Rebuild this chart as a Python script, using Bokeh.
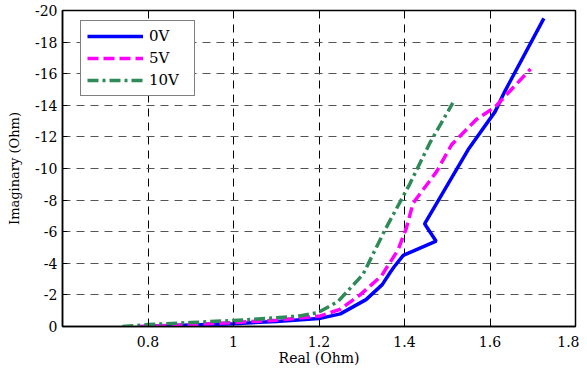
from bokeh.plotting import figure
from bokeh.models import Range1d, FixedTicker, Legend, LegendItem
from bokeh.embed import file_html
from bokeh.resources import INLINE

# 0V
x0 = [0.79, 0.9, 1.0, 1.1, 1.2, 1.25, 1.27, 1.31, 1.348, 1.366, 1.375, 1.397, 1.474, 1.447, 1.549, 1.612, 1.635, 1.726]
y0 = [0.0, -0.1, -0.18, -0.32, -0.5, -0.8, -1.1, -1.7, -2.65, -3.4, -3.75, -4.5, -5.4, -6.5, -11.2, -13.6, -14.9, -19.5]
# 5V
x5 = [0.78, 0.9, 1.0, 1.1, 1.203, 1.249, 1.296, 1.346, 1.385, 1.404, 1.42, 1.475, 1.51, 1.568, 1.612, 1.695]
y5 = [0.0, -0.12, -0.25, -0.4, -0.67, -1.08, -2.0, -3.2, -4.85, -6.2, -7.8, -9.8, -11.5, -13.1, -13.9, -16.3]
# 10V
x10 = [0.74, 0.8, 0.9, 1.0, 1.1, 1.155, 1.198, 1.245, 1.303, 1.355, 1.412, 1.459, 1.513]
y10 = [0.0, -0.12, -0.25, -0.38, -0.55, -0.67, -0.88, -1.6, -3.3, -6.15, -9.0, -11.6, -14.15]

x_ticks = [0.8, 1.0, 1.2, 1.4, 1.6, 1.8]
x_tick_labels = ["0.8", "1", "1.2", "1.4", "1.6", "1.8"]
y_ticks = [0, -2, -4, -6, -8, -10, -12, -14, -16, -18, -20]
y_tick_labels = ["0", "-2", "-4", "-6", "-8", "-10", "-12", "-14", "-16", "-18", "-20"]

FONT = "DejaVu Serif"

p = figure(width=579, height=368, output_backend="svg", toolbar_location=None,
           x_range=Range1d(0.6, 1.8), y_range=Range1d(0, -20),
           min_border_left=62, min_border_right=4, min_border_top=10, min_border_bottom=39)

p.outline_line_color = "black"
p.outline_line_width = 1.5

for ax in (p.xaxis[0], p.yaxis[0]):
    ax.axis_line_width = 1.5
    ax.axis_line_color = "black"
    ax.major_tick_in = 5
    ax.major_tick_out = 0
    ax.minor_tick_in = 0
    ax.minor_tick_out = 0
    ax.major_tick_line_color = "black"
    ax.major_label_text_font = FONT
    ax.major_label_text_font_size = "14px"
    ax.major_label_text_color = "black"
    ax.axis_label_text_font = FONT
    ax.axis_label_text_font_style = "normal"
    ax.axis_label_text_color = "black"

p.xaxis.axis_label_text_font_size = "14px"
p.yaxis.axis_label_text_font_size = "13px"
p.xaxis.ticker = FixedTicker(ticks=x_ticks)
p.xaxis.major_label_overrides = {t: l for t, l in zip(x_ticks, x_tick_labels)}
p.yaxis.ticker = FixedTicker(ticks=y_ticks)
p.yaxis.major_label_overrides = {t: l for t, l in zip(y_ticks, y_tick_labels)}
p.xaxis.axis_label = "Real (Ohm)"
p.yaxis.axis_label = "Imaginary (Ohm)"
p.xaxis.axis_label_standoff = 0
p.yaxis.axis_label_standoff = 10
p.xaxis.major_label_standoff = 9
p.yaxis.major_label_standoff = 5

p.xgrid.grid_line_color = "black"
p.xgrid.grid_line_dash = "8 6"
p.xgrid.grid_line_width = 1
p.ygrid.grid_line_color = "#555555"
p.ygrid.grid_line_dash = "8 6"
p.ygrid.grid_line_width = 1

r0 = p.line(x0, y0, line_color="#0000FF", line_width=3.5)
r5 = p.line(x5, y5, line_color="#FF00FF", line_width=3.5, line_dash="11 5")
r10 = p.line(x10, y10, line_color="#2E8B57", line_width=3.5, line_dash="11 4 3 4")

legend = Legend(items=[LegendItem(label="0V", renderers=[r0]),
                       LegendItem(label="5V", renderers=[r5]),
                       LegendItem(label="10V", renderers=[r10])],
                location=(18, 230))
legend.border_line_color = "black"
legend.border_line_width = 1
legend.background_fill_color = "white"
legend.background_fill_alpha = 1
legend.label_text_font = FONT
legend.label_text_font_size = "15px"
legend.label_text_color = "black"
legend.padding = 6
legend.spacing = 4
legend.glyph_height = 16
legend.label_height = 16
legend.glyph_width = 56
legend.label_width = 39
legend.label_standoff = 6
legend.margin = 0
p.add_layout(legend, "center")

open("out.html", "w").write(file_html(p, INLINE))
